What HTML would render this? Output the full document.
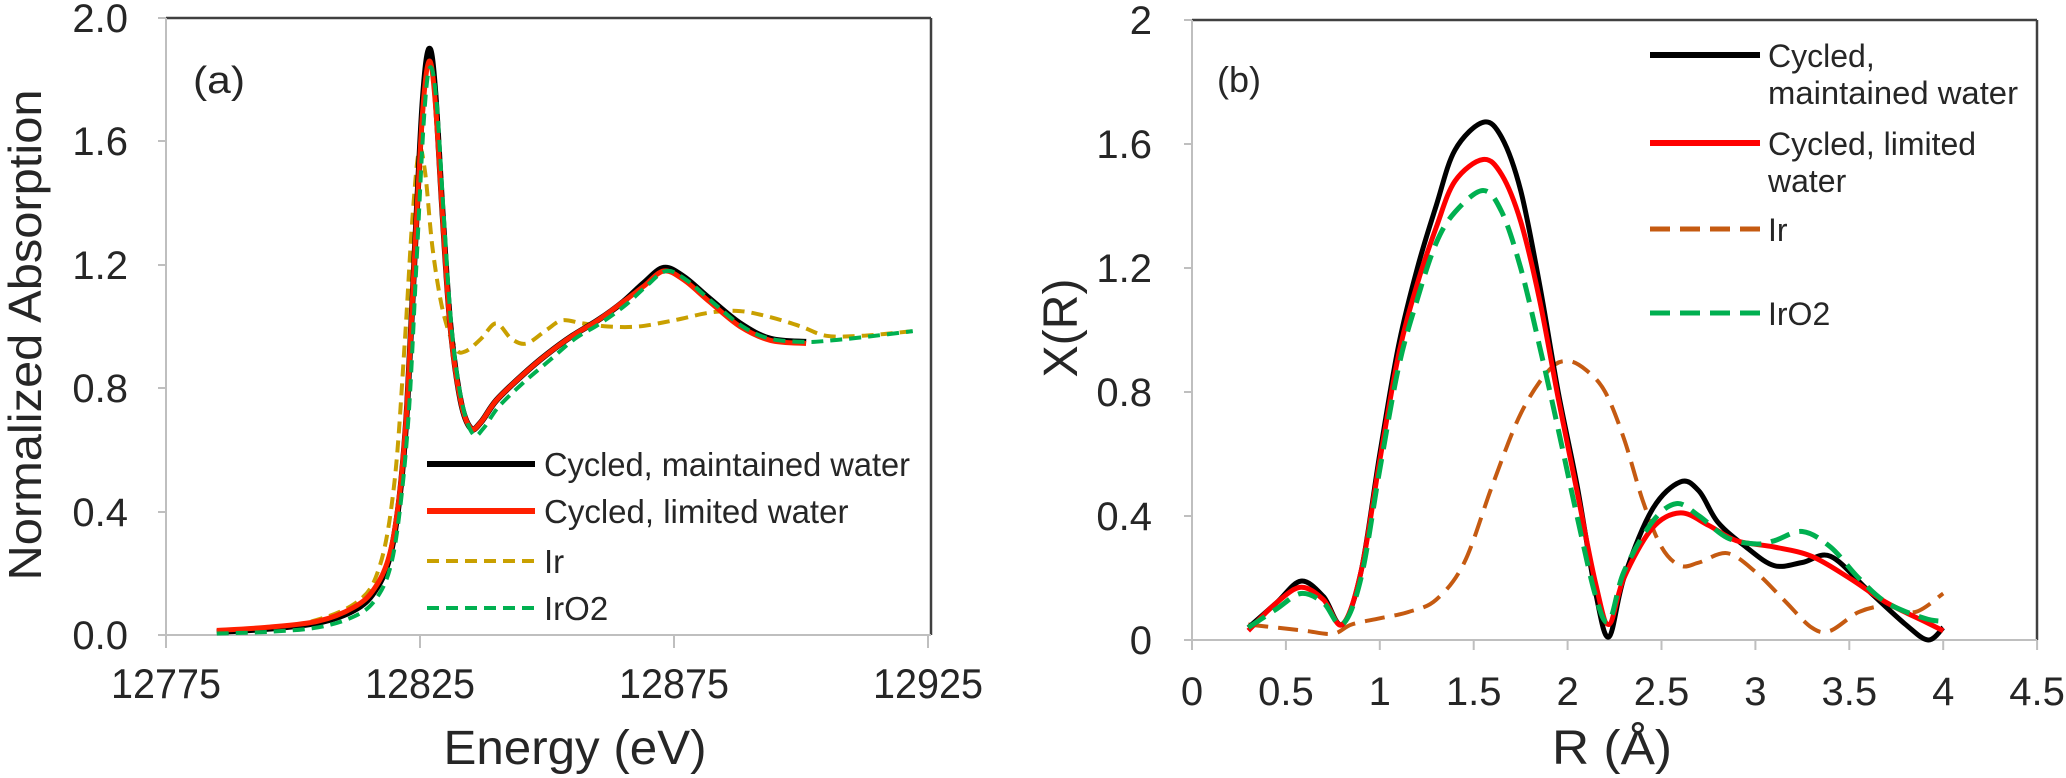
<!DOCTYPE html>
<html><head><meta charset="utf-8"><style>
html,body{margin:0;padding:0;background:#fff;}
svg{display:block;}
text{font-family:"Liberation Sans",Arial,sans-serif;fill:#262626;}
</style></head><body>
<svg id="s" width="2066" height="778" viewBox="0 0 2066 778" xmlns="http://www.w3.org/2000/svg">
<line x1="166" y1="18" x2="931" y2="18" stroke="#404040" stroke-width="2.5"/>
<line x1="931" y1="18" x2="931" y2="635" stroke="#404040" stroke-width="2.5"/>
<line x1="166" y1="18" x2="166" y2="635" stroke="#bfbfbf" stroke-width="2"/>
<line x1="166" y1="635" x2="931" y2="635" stroke="#bfbfbf" stroke-width="2"/>
<g stroke="#bfbfbf" stroke-width="2">
<line x1="158" y1="18" x2="166" y2="18"/><line x1="158" y1="141" x2="166" y2="141"/>
<line x1="158" y1="265" x2="166" y2="265"/><line x1="158" y1="388" x2="166" y2="388"/>
<line x1="158" y1="512" x2="166" y2="512"/><line x1="158" y1="635" x2="166" y2="635"/>
<line x1="166" y1="635" x2="166" y2="648"/><line x1="420" y1="635" x2="420" y2="648"/>
<line x1="674" y1="635" x2="674" y2="648"/><line x1="928" y1="635" x2="928" y2="648"/>
</g>
<g font-size="40" text-anchor="end">
<text x="128" y="32">2.0</text><text x="128" y="155">1.6</text><text x="128" y="279">1.2</text>
<text x="128" y="402">0.8</text><text x="128" y="526">0.4</text><text x="128" y="649">0.0</text>
</g>
<g font-size="42" text-anchor="middle">
<text x="166" y="698" textLength="110" lengthAdjust="spacingAndGlyphs">12775</text>
<text x="420" y="698" textLength="110" lengthAdjust="spacingAndGlyphs">12825</text>
<text x="674" y="698" textLength="110" lengthAdjust="spacingAndGlyphs">12875</text>
<text x="928" y="698" textLength="110" lengthAdjust="spacingAndGlyphs">12925</text>
</g>
<text x="575" y="764" font-size="48" text-anchor="middle" textLength="263" lengthAdjust="spacingAndGlyphs">Energy (eV)</text>
<text transform="translate(41,335) rotate(-90)" font-size="46" text-anchor="middle" textLength="491" lengthAdjust="spacingAndGlyphs">Normalized  Absorption</text>
<text x="193" y="93" font-size="38" textLength="52" lengthAdjust="spacingAndGlyphs">(a)</text>
<line x1="427" y1="464" x2="535" y2="464" stroke="#000" stroke-width="6"/>
<line x1="427" y1="511" x2="535" y2="511" stroke="#ff2000" stroke-width="6"/>
<line x1="427" y1="561" x2="535" y2="561" stroke="#c9a000" stroke-width="4" stroke-dasharray="12,7"/>
<line x1="427" y1="608" x2="535" y2="608" stroke="#00b050" stroke-width="4" stroke-dasharray="12,7"/>
<g font-size="33">
<text x="544" y="476" textLength="366" lengthAdjust="spacingAndGlyphs">Cycled, maintained water</text>
<text x="544" y="523">Cycled, limited water</text>
<text x="544" y="573">Ir</text>
<text x="544" y="620">IrO2</text>
</g>

<line x1="1192" y1="20" x2="2037" y2="20" stroke="#404040" stroke-width="2.5"/>
<line x1="2037" y1="20" x2="2037" y2="640" stroke="#404040" stroke-width="2.5"/>
<line x1="1192" y1="20" x2="1192" y2="640" stroke="#bfbfbf" stroke-width="2"/>
<line x1="1192" y1="640" x2="2037" y2="640" stroke="#bfbfbf" stroke-width="2"/>
<g stroke="#bfbfbf" stroke-width="2" id="tb"></g>
<g font-size="40" text-anchor="end" id="yb"></g>
<g font-size="40" text-anchor="middle" id="xb"></g>
<text x="1612" y="764" font-size="48" text-anchor="middle" textLength="120" lengthAdjust="spacingAndGlyphs">R (Å)</text>
<text transform="translate(1077,328) rotate(-90)" font-size="48" text-anchor="middle" textLength="99" lengthAdjust="spacingAndGlyphs">X(R)</text>
<text x="1217" y="92" font-size="36">(b)</text>
<line x1="1650" y1="55" x2="1760" y2="55" stroke="#000" stroke-width="6"/>
<line x1="1650" y1="143" x2="1760" y2="143" stroke="#ff0000" stroke-width="6"/>
<line x1="1650" y1="229" x2="1760" y2="229" stroke="#c55a11" stroke-width="5" stroke-dasharray="20,10"/>
<line x1="1650" y1="313" x2="1760" y2="313" stroke="#00b050" stroke-width="5" stroke-dasharray="20,10"/>
<g font-size="32">
<text x="1768" y="67">Cycled,</text>
<text x="1768" y="104" textLength="250" lengthAdjust="spacingAndGlyphs">maintained water</text>
<text x="1768" y="155">Cycled, limited</text>
<text x="1768" y="192">water</text>
<text x="1768" y="241">Ir</text>
<text x="1768" y="325">IrO2</text>
</g>
<g id="curves"></g>
</svg>
<script>
var NS="http://www.w3.org/2000/svg";
function el(p,t,a){var e=document.createElementNS(NS,t);for(var k in a)e.setAttribute(k,a[k]);p.appendChild(e);return e;}
var tb=document.getElementById('tb'),yb=document.getElementById('yb'),xb=document.getElementById('xb');
var yl=["0","0.4","0.8","1.2","1.6","2"];
for(var i=0;i<6;i++){var y=640-i*124;el(tb,'line',{x1:1184,y1:y,x2:1192,y2:y});var t=el(yb,'text',{x:1152,y:y+14});t.textContent=yl[i];}
for(var i=0;i<=9;i++){var x=1192+i*0.5*187.8;el(tb,'line',{x1:x,y1:640,x2:x,y2:650});var t=el(xb,'text',{x:x,y:705});t.textContent=(i*0.5).toString();}
function path(pts){var d="M"+pts[0][0].toFixed(1)+","+pts[0][1].toFixed(1);
for(var i=0;i<pts.length-1;i++){var p0=pts[i-1]||pts[i],p1=pts[i],p2=pts[i+1],p3=pts[i+2]||p2;
var c1=[p1[0]+(p2[0]-p0[0])/6,p1[1]+(p2[1]-p0[1])/6],c2=[p2[0]-(p3[0]-p1[0])/6,p2[1]-(p3[1]-p1[1])/6];
d+="C"+c1[0].toFixed(1)+","+c1[1].toFixed(1)+" "+c2[0].toFixed(1)+","+c2[1].toFixed(1)+" "+p2[0].toFixed(1)+","+p2[1].toFixed(1);}
return d;}
var g=document.getElementById('curves');
function A(a){var r=[];for(var i=0;i<a.length;i+=2)r.push([166+(a[i]-12775)*5.08,635-a[i+1]*308.5]);return r;}
function B(a){var r=[];for(var i=0;i<a.length;i+=2)r.push([1192+a[i]*187.8,640-a[i+1]*310]);return r;}
function draw(pts,col,w,dash){var a={d:path(pts),fill:"none",stroke:col,"stroke-width":w,"stroke-linejoin":"round"};if(dash)a["stroke-dasharray"]=dash;el(g,'path',a);}
var blk=[12785,0.01,12795,0.02,12805,0.04,12812,0.08,12816,0.14,12819,0.25,12821,0.45,12822.5,0.75,12824,1.25,12825.5,1.72,12826.8,1.9,12828,1.76,12829.5,1.35,12831,1.0,12833,0.76,12835,0.67,12837,0.69,12840,0.76,12845,0.84,12850,0.91,12855,0.97,12860,1.02,12865,1.08,12869,1.14,12873,1.19,12877,1.16,12882,1.09,12888,1.01,12894,0.96,12901,0.95];
var red=[12785,0.015,12795,0.025,12805,0.045,12812,0.09,12816,0.15,12819,0.26,12821,0.46,12822.5,0.76,12824,1.25,12825.5,1.69,12826.8,1.86,12828,1.73,12829.5,1.34,12831,0.99,12833,0.76,12835,0.67,12837,0.69,12840,0.76,12845,0.84,12850,0.91,12855,0.97,12860,1.02,12865,1.08,12869,1.13,12873,1.18,12877,1.15,12882,1.08,12888,1.0,12894,0.955,12901,0.945];
var grn=[12785,0.005,12795,0.01,12805,0.025,12812,0.06,12816,0.11,12819,0.21,12821,0.4,12822.8,0.72,12824.3,1.2,12825.8,1.68,12827,1.84,12828.3,1.72,12829.8,1.33,12831.3,0.98,12833.3,0.75,12835.5,0.65,12837.5,0.67,12840.5,0.74,12845.5,0.82,12850.5,0.89,12855.5,0.96,12860.5,1.01,12865.5,1.07,12869.5,1.13,12873.5,1.18,12877.5,1.15,12882.5,1.08,12888.5,1.0,12894,0.96,12901,0.95,12906,0.955,12912,0.965,12922,0.985];
var ir=[12785,0.01,12800,0.03,12812,0.1,12817,0.22,12820,0.5,12822,0.95,12823.5,1.35,12824.8,1.57,12826,1.5,12827.5,1.25,12829.5,1.05,12832,0.93,12834,0.92,12837,0.96,12840,1.01,12843,0.96,12846,0.945,12850,0.99,12853,1.02,12857,1.01,12862,1.0,12868,1.0,12875,1.02,12882,1.045,12888,1.05,12894,1.03,12900,1.0,12905,0.97,12912,0.97,12922,0.985];
draw(A(ir),"#c9a000",4,"12,7");
draw(A(blk),"#000",6);
draw(A(red),"#ff2000",5);
draw(A(grn),"#00b050",4,"12,7");
var bb=[0.3,0.04,0.45,0.12,0.58,0.19,0.7,0.14,0.8,0.05,0.9,0.22,1.0,0.6,1.1,0.95,1.2,1.2,1.3,1.4,1.4,1.58,1.55,1.67,1.65,1.62,1.75,1.45,1.85,1.15,1.95,0.8,2.05,0.5,2.15,0.15,2.22,0.01,2.3,0.2,2.45,0.42,2.6,0.51,2.7,0.48,2.8,0.38,2.95,0.3,3.1,0.24,3.25,0.25,3.4,0.27,3.6,0.16,3.8,0.05,3.92,0.0,4.0,0.04];
var br=[0.3,0.03,0.45,0.12,0.58,0.17,0.7,0.13,0.8,0.05,0.9,0.22,1.0,0.58,1.1,0.92,1.2,1.15,1.3,1.33,1.4,1.48,1.55,1.55,1.65,1.5,1.75,1.35,1.85,1.1,1.95,0.78,2.05,0.48,2.15,0.18,2.22,0.05,2.3,0.2,2.45,0.36,2.6,0.41,2.75,0.37,2.9,0.32,3.1,0.3,3.3,0.27,3.5,0.2,3.7,0.12,3.9,0.06,4.0,0.03];
var bg=[0.3,0.04,0.45,0.1,0.58,0.15,0.7,0.12,0.8,0.05,0.9,0.2,1.0,0.55,1.1,0.88,1.2,1.1,1.3,1.28,1.4,1.38,1.55,1.45,1.65,1.38,1.75,1.2,1.85,0.95,1.95,0.68,2.05,0.4,2.15,0.14,2.22,0.06,2.3,0.22,2.45,0.38,2.58,0.44,2.7,0.4,2.85,0.33,3.0,0.31,3.1,0.32,3.25,0.35,3.4,0.3,3.55,0.2,3.7,0.12,3.9,0.07,4.0,0.06];
var bi=[0.3,0.05,0.45,0.04,0.6,0.03,0.75,0.02,0.85,0.05,1.0,0.07,1.15,0.09,1.3,0.13,1.45,0.25,1.6,0.5,1.75,0.73,1.9,0.87,2.0,0.9,2.1,0.87,2.2,0.8,2.3,0.65,2.4,0.45,2.5,0.3,2.6,0.24,2.7,0.25,2.85,0.28,3.0,0.22,3.15,0.13,3.3,0.04,3.4,0.03,3.55,0.09,3.7,0.11,3.85,0.09,4.0,0.15];
draw(B(bi),"#c55a11",4,"20,10");
draw(B(bb),"#000",5);
draw(B(br),"#ff0000",5);
draw(B(bg),"#00b050",5,"20,10");
</script>
</body></html>
